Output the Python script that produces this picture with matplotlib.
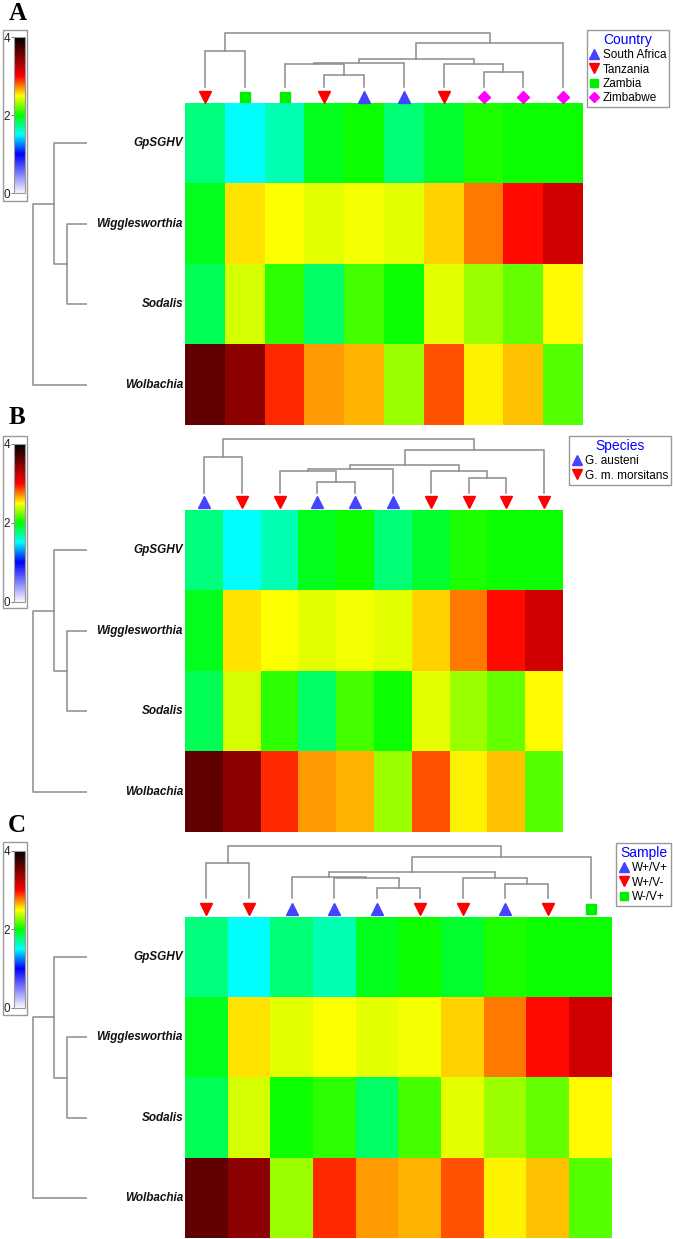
import matplotlib
matplotlib.use("Agg")
import matplotlib.pyplot as plt
import numpy as np
from matplotlib.colors import LinearSegmentedColormap
from matplotlib.lines import Line2D
from matplotlib.patches import Rectangle
import matplotlib.cm as cm
import matplotlib.colors as mcolors

# ---------------- data ----------------
rows = ["GpSGHV", "Wigglesworthia", "Sodalis", "Wolbachia"]
gpsghv    = [1.75, 1.50, 1.65, 1.94, 2.03, 1.78, 1.91, 2.05, 2.02, 2.02]
wiggles   = [1.94, 2.56, 2.49, 2.44, 2.47, 2.44, 2.58, 2.76, 2.97, 3.18]
sodalis   = [1.84, 2.41, 2.09, 1.81, 2.13, 2.03, 2.44, 2.31, 2.19, 2.50]
wolbachia = [3.62, 3.44, 2.91, 2.69, 2.65, 2.31, 2.83, 2.53, 2.62, 2.16]

# sample ordering (columns) per panel
order_A = [0, 1, 2, 3, 4, 5, 6, 7, 8, 9]
order_B = [0, 1, 2, 3, 4, 5, 6, 7, 8, 9]
order_C = [0, 1, 5, 2, 3, 4, 6, 7, 8, 9]

# group labels per displayed column
country = ["Tanzania", "Zambia", "Zambia", "Tanzania", "South Africa", "South Africa",
           "Tanzania", "Zimbabwe", "Zimbabwe", "Zimbabwe"]
species = ["G. austeni", "G. m. morsitans", "G. m. morsitans", "G. austeni", "G. austeni",
           "G. austeni", "G. m. morsitans", "G. m. morsitans", "G. m. morsitans", "G. m. morsitans"]
sample = ["W+/V-", "W+/V-", "W+/V+", "W+/V+", "W+/V+", "W+/V-", "W+/V-", "W+/V+", "W+/V-", "W-/V+"]

country_levels = ["South Africa", "Tanzania", "Zambia", "Zimbabwe"]
species_levels = ["G. austeni", "G. m. morsitans"]
sample_levels = ["W+/V+", "W+/V-", "W-/V+"]

# column dendrogram merges (child, child, height); leaves 0..9 = displayed positions
link_A = [(0, 1, 36), (3, 4, 11.7), (2, 11, 22.4), (12, 5, 23.4), (7, 8, 15),
          (6, 14, 22.4), (13, 15, 27.4), (16, 9, 43.4), (10, 17, 54)]
link_B = [(0, 1, 36), (3, 4, 11.7), (2, 11, 22.3), (12, 5, 24), (7, 8, 15),
          (6, 14, 22.7), (13, 15, 28.3), (16, 9, 43.3), (10, 17, 54)]
link_C = [(0, 1, 35), (4, 5, 10), (3, 11, 20), (2, 12, 21.7), (7, 8, 14),
          (6, 14, 20.7), (13, 15, 26), (16, 9, 41.7), (10, 17, 52.3)]
# row dendrogram merges; leaves 0..3 = rows
link_rows = [(1, 2, 20.6), (0, 4, 33), (5, 3, 54)]

# ---------------- style ----------------
W, H = 673, 1239
fig = plt.figure(figsize=(W / 100, H / 100), dpi=100)
fig.patch.set_facecolor("white")

cmap = LinearSegmentedColormap.from_list(
    "hm", [(0.0, "#f8f8ff"), (0.25, "#0000ff"), (0.375, "#00ffff"), (0.5, "#00ff00"),
           (0.625, "#ffff00"), (0.75, "#ff0000"), (1.0, "#000000")])
norm = mcolors.Normalize(0, 4)

marker_style = {
    "South Africa": ("^", "#4444ff", 8.0), "Tanzania": ("v", "#ff0000", 8.0),
    "Zambia": ("s", "#00ee00", 6.5), "Zimbabwe": ("D", "#ff00ff", 6.0),
    "G. austeni": ("^", "#4444ff", 8.0), "G. m. morsitans": ("v", "#ff0000", 8.0),
    "W+/V+": ("^", "#4444ff", 8.0), "W+/V-": ("v", "#ff0000", 8.0), "W-/V+": ("s", "#00ee00", 6.5),
}
LC = "#8c8c8c"
SANS = "Liberation Sans"


def px_axes(x0, y0, x1, y1):
    return fig.add_axes([x0 / W, 1 - y1 / H, (x1 - x0) / W, (y1 - y0) / H])


def node_pos(links, nleaves):
    xs = list(range(nleaves))
    hs = [0.0] * nleaves
    segs = []
    for a, b, h in links:
        xa, xb = xs[a], xs[b]
        segs.append(([xa, xa, xb, xb], [hs[a], h, h, hs[b]]))
        xs.append((xa + xb) / 2)
        hs.append(h)
    return segs


data = np.array([gpsghv, wiggles, sodalis, wolbachia])

panels = [
    dict(letter="A", order=order_A, heat=(185, 103, 583, 425), stem=86.7, moff=10, link=link_A,
         cb=(14, 37.3, 25, 193.3), frame=(3, 30, 27, 201), lpos=(18, 14),
         groups=country, levels=country_levels, title="Country", leg=(669, 30)),
    dict(letter="B", order=order_B, heat=(185, 510, 563, 832), stem=493.3, moff=8.4, link=link_B,
         cb=(14, 444, 25, 601.7), frame=(3, 436, 27, 608), lpos=(17, 417),
         groups=species, levels=species_levels, title="Species", leg=(671, 436)),
    dict(letter="C", order=order_C, heat=(185, 917, 612, 1238), stem=898.3, moff=11, link=link_C,
         cb=(14, 850.7, 25, 1008), frame=(3, 842, 27, 1015), lpos=(17, 825),
         groups=sample, levels=sample_levels, title="Sample", leg=(671, 843)),
]

for p in panels:
    x0, y0, x1, y1 = p["heat"]
    # heatmap
    ax = px_axes(x0, y0, x1, y1)
    mat = data[:, p["order"]]
    ax.imshow(mat, cmap=cmap, norm=norm, aspect="auto", interpolation="nearest",
              extent=(-0.5, 9.5, 3.5, -0.5))
    ax.set_xlim(-0.5, 9.5)
    ax.set_ylim(3.5, -0.5)
    ax.axis("off")

    # row labels
    for i, r in enumerate(rows):
        fig.text(183 / W, 1 - (y0 + (i + 0.5) * (y1 - y0) / 4) / H, r, ha="right", va="center",
                 fontsize=8.5, fontweight="bold", fontstyle="italic", family=SANS, color="#111111")

    # column dendrogram
    root = max(h for _, _, h in p["link"])
    top = p["stem"] - (root + 2)
    dax = px_axes(x0, top, x1, y0)
    dax.set_xlim(-0.5, 9.5)
    dax.set_ylim(-(y0 - p["stem"]), root + 2)
    dax.axis("off")
    for xs, hs in node_pos(p["link"], 10):
        dax.plot(xs, hs, color=LC, lw=1.1, solid_joinstyle="miter")
    for i, g in enumerate(p["groups"]):
        m, c, s = marker_style[g]
        dax.plot(i, -p["moff"], marker=m, color=c, ms=s, mec=c, linestyle="none", clip_on=False)

    # row dendrogram
    rax = px_axes(20, y0, 87.3, y1)
    rax.set_xlim(67.3, 0)
    rax.set_ylim(3.5, -0.5)
    rax.axis("off")
    for ys, hs in node_pos(link_rows, 4):
        rax.plot(hs, ys, color=LC, lw=1.1)

    # colorbar
    cx0, cy0, cx1, cy1 = p["cb"]
    cax = px_axes(cx0, cy0, cx1, cy1)
    sm = cm.ScalarMappable(norm=norm, cmap=cmap)
    cb = fig.colorbar(sm, cax=cax, ticks=[0, 2, 4])
    cb.outline.set_edgecolor("#999999")
    cb.outline.set_linewidth(0.8)
    cax.yaxis.set_ticks_position("left")
    cax.tick_params(axis="y", length=2.5, width=0.6, color="#666666", labelsize=8.5, pad=0.5,
                    labelcolor="#222222")
    for t in cax.get_yticklabels():
        t.set_family(SANS)
    fx0, fy0, fx1, fy1 = p["frame"]
    fig.patches.append(Rectangle((fx0 / W, 1 - fy1 / H), (fx1 - fx0) / W, (fy1 - fy0) / H,
                                 transform=fig.transFigure, fill=False, edgecolor="#999999", lw=1.0))

    # panel letter
    fig.text(p["lpos"][0] / W, 1 - p["lpos"][1] / H, p["letter"], ha="center", va="center",
             fontsize=18, fontweight="bold", family="Liberation Serif")

    # legend
    handles = []
    for lv in p["levels"]:
        m, c, s = marker_style[lv]
        handles.append(Line2D([], [], marker=m, color=c, mec=c, ms=s * 0.9, linestyle="none", label=lv))
    lg = fig.legend(handles=handles, loc="upper right",
                    bbox_to_anchor=(p["leg"][0] / W, 1 - p["leg"][1] / H),
                    frameon=True, fancybox=False, edgecolor="#999999", framealpha=1,
                    title=p["title"], title_fontsize=10, prop={"family": SANS, "size": 8.5},
                    borderpad=0.25, labelspacing=0.2, handletextpad=0.3, handlelength=0.8,
                    handleheight=0.8, borderaxespad=0)
    lg.get_frame().set_linewidth(1.0)
    lg.get_title().set_color("#0000ff")
    lg.get_title().set_family(SANS)

fig.savefig("out.png", dpi=100)
